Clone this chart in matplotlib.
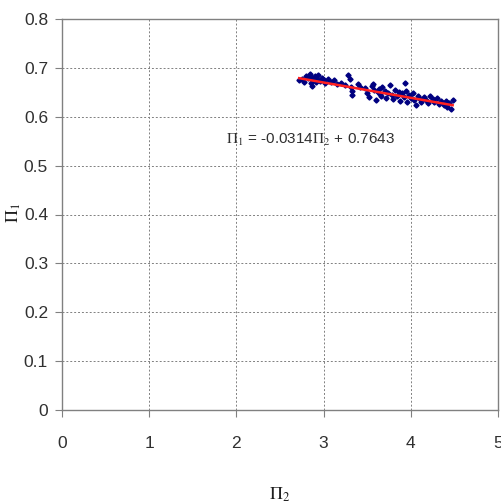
import matplotlib
matplotlib.use("Agg")
import matplotlib.pyplot as plt
import numpy as np

plt.rcParams['font.family'] = ['Liberation Sans', 'DejaVu Sans']
plt.rcParams['mathtext.fontset'] = 'stix'

pi2 = [2.72, 2.75, 2.78, 2.80, 2.82, 2.84, 2.85, 2.86, 2.87, 2.88, 2.90, 2.91, 2.93, 2.94,
       2.96, 2.98, 3.00, 3.02, 3.05, 3.08, 3.12, 3.15, 3.20, 3.25, 3.28, 3.30, 3.31, 3.32,
       3.33, 3.40, 3.42, 3.47, 3.50, 3.52, 3.55, 3.57, 3.58, 3.60, 3.62, 3.63, 3.65, 3.66,
       3.67, 3.70, 3.72, 3.74, 3.76, 3.78, 3.80, 3.82, 3.84, 3.86, 3.88, 3.90, 3.92, 3.93,
       3.95, 3.96, 3.98, 4.00, 4.02, 4.04, 4.06, 4.08, 4.10, 4.12, 4.15, 4.18, 4.20, 4.22,
       4.25, 4.27, 4.30, 4.32, 4.35, 4.38, 4.40, 4.42, 4.44, 4.46, 4.48]
pi1 = [0.676, 0.678, 0.672, 0.684, 0.679, 0.688, 0.670, 0.681, 0.662, 0.676, 0.683, 0.671,
       0.678, 0.686, 0.674, 0.680, 0.676, 0.669, 0.677, 0.672, 0.675, 0.667, 0.670, 0.664,
       0.686, 0.678, 0.660, 0.652, 0.645, 0.668, 0.661, 0.658, 0.648, 0.640, 0.662, 0.668,
       0.655, 0.634, 0.650, 0.657, 0.646, 0.643, 0.660, 0.652, 0.638, 0.648, 0.665, 0.645,
       0.636, 0.655, 0.643, 0.650, 0.632, 0.648, 0.640, 0.670, 0.653, 0.630, 0.645, 0.638,
       0.648, 0.635, 0.625, 0.642, 0.636, 0.631, 0.640, 0.634, 0.628, 0.642, 0.636, 0.630,
       0.638, 0.627, 0.633, 0.624, 0.632, 0.620, 0.628, 0.615, 0.635]
slope = -0.0314
intercept = 0.7643
x_ticks = [0, 1, 2, 3, 4, 5]
y_ticks = [0, 0.1, 0.2, 0.3, 0.4, 0.5, 0.6, 0.7, 0.8]

fig = plt.figure(figsize=(5.01, 5.04), dpi=100)
ax = fig.add_axes([62/501, 1 - 410/504, (498-62)/501, (410-19)/504])

gray = '#808080'
ax.set_xlim(0, 5)
ax.set_ylim(0, 0.8)
ax.set_xticks(x_ticks)
ax.set_yticks(y_ticks)
ax.set_xticklabels([str(t) for t in x_ticks])
ax.set_yticklabels(['0' if t == 0 else f'{t:.1f}' for t in y_ticks])
ax.grid(True, color='#808080', linestyle=(0, (2, 2)), linewidth=0.7)
ax.set_axisbelow(True)
for s in ax.spines.values():
    s.set_color(gray)
    s.set_linewidth(1.0)
ax.tick_params(axis='both', direction='out', length=5, color=gray, labelsize=12.5, labelcolor='#303030')
ax.tick_params(axis='x', pad=14)
ax.tick_params(axis='y', pad=5)

xs = np.array([min(pi2), max(pi2)])
ax.plot(pi2, pi1, linestyle='none', marker='D', markersize=2.6, color='#000080', zorder=3)
ax.plot(xs, slope * xs + intercept, color='#ff2020', linewidth=1.8, zorder=4)

ax.text(1.88, 0.552, r'$\Pi_1$ = -0.0314$\Pi_2$ + 0.7643', fontsize=11, color='#303030',
        va='center', ha='left')

fig.text(280/501, 1 - 495/504, r'$\Pi_2$', fontsize=13, ha='center', va='center', color='#202020')
fig.text(14/501, 1 - 213/504, r'$\Pi_1$', fontsize=13, ha='center', va='center', rotation=90, color='#202020')

fig.savefig('out.png', dpi=100)
